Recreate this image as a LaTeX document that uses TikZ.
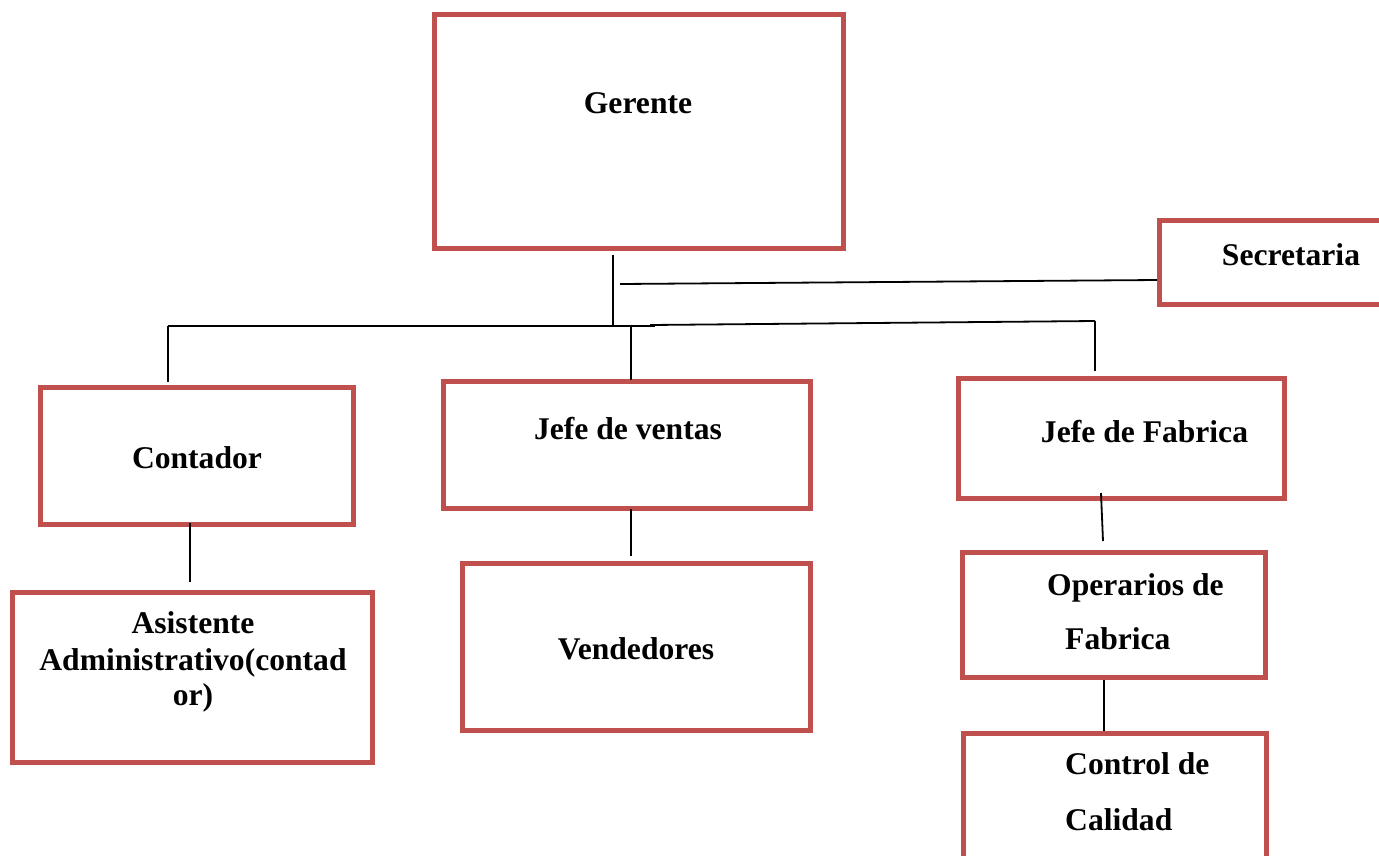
\documentclass[tikz,border=0pt]{standalone}
\usepackage{fontspec}
\setmainfont{Liberation Serif}
\definecolor{boxred}{HTML}{C0504D}
\begin{document}
\begin{tikzpicture}[x=1pt,y=-1pt,
  box/.style={draw=boxred,line width=5pt,rectangle,inner sep=0pt},
  lbl/.style={font=\fontsize{31.6}{37}\selectfont\bfseries,inner sep=0pt,anchor=base},
  wire/.style={draw=black,line width=1.8pt}]
\useasboundingbox (0,0) rectangle (1379,855);
\clip (0,0) rectangle (1379,855);
\fill[white] (0,0) rectangle (1379,855);

% boxes
\node[box,minimum width=409pt,minimum height=234pt] (ger) at (639,131.5) {};
\node[box,minimum width=260pt,minimum height=83.5pt] (sec) at (1289.5,262.25) {};
\node[box,minimum width=313pt,minimum height=137pt] (con) at (197,456) {};
\node[box,minimum width=367pt,minimum height=127pt] (jv) at (627,445) {};
\node[box,minimum width=326pt,minimum height=120pt] (jf) at (1121.5,438.5) {};
\node[box,minimum width=360pt,minimum height=169.5pt] (asi) at (192.5,677.25) {};
\node[box,minimum width=348pt,minimum height=167pt] (ven) at (636.5,647) {};
\node[box,minimum width=303pt,minimum height=125pt] (ope) at (1114,615) {};
\node[box,minimum width=303pt,minimum height=200pt] (cal) at (1115,833) {};

% labels
\node[lbl] (gerT) at (638,113) {Gerente};
\node[lbl] (secT) at (1291,265) {Secretaria};
\node[lbl] (conT) at (197,468) {Contador};
\node[lbl] (jvT) at (628,439) {Jefe de ventas};
\node[lbl] (jfT) at (1144.5,442) {Jefe de Fabrica};
\node[lbl] (asiT1) at (193,633) {Asistente};
\node[lbl] (asiT2) at (193,670) {Administrativo(contad};
\node[lbl] (asiT3) at (193,705) {or)};
\node[lbl] (venT) at (636,659) {Vendedores};
\node[lbl,anchor=base west] (opeT1) at (1047,595) {Operarios de};
\node[lbl,anchor=base west] (opeT2) at (1065,649) {Fabrica};
\node[lbl,anchor=base west] (calT1) at (1065,774) {Control de};
\node[lbl,anchor=base west] (calT2) at (1065,830) {Calidad};

% connector end points
\coordinate (g1) at (613,255);
\coordinate (g2) at (613,326);
\coordinate (s1) at (620,284);
\coordinate (s2) at (1157,280);
\coordinate (b1) at (168,326);
\coordinate (b2) at (655,326);
\coordinate (b3) at (650,325);
\coordinate (b4) at (1095,321);
\coordinate (d1) at (168,382);
\coordinate (v1) at (631,326);
\coordinate (v2) at (631,380);
\coordinate (f1) at (1095,371);
\coordinate (ca1) at (190,523);
\coordinate (ca2) at (190,582);
\coordinate (vv1) at (631,509);
\coordinate (vv2) at (631,556);
\coordinate (fo1) at (1101,493);
\coordinate (fo2) at (1103,541);
\coordinate (oc1) at (1104,680);
\coordinate (oc2) at (1104,731);

% connectors
\draw[wire] (g1) -- (g2);
\draw[wire] (s1) -- (s2);
\draw[wire] (b1) -- (b2);
\draw[wire] (b3) -- (b4);
\draw[wire] (b1) -- (d1);
\draw[wire] (v1) -- (v2);
\draw[wire] (b4) -- (f1);
\draw[wire] (ca1) -- (ca2);
\draw[wire] (vv1) -- (vv2);
\draw[wire] (fo1) -- (fo2);
\draw[wire] (oc1) -- (oc2);
\end{tikzpicture}
\end{document}
